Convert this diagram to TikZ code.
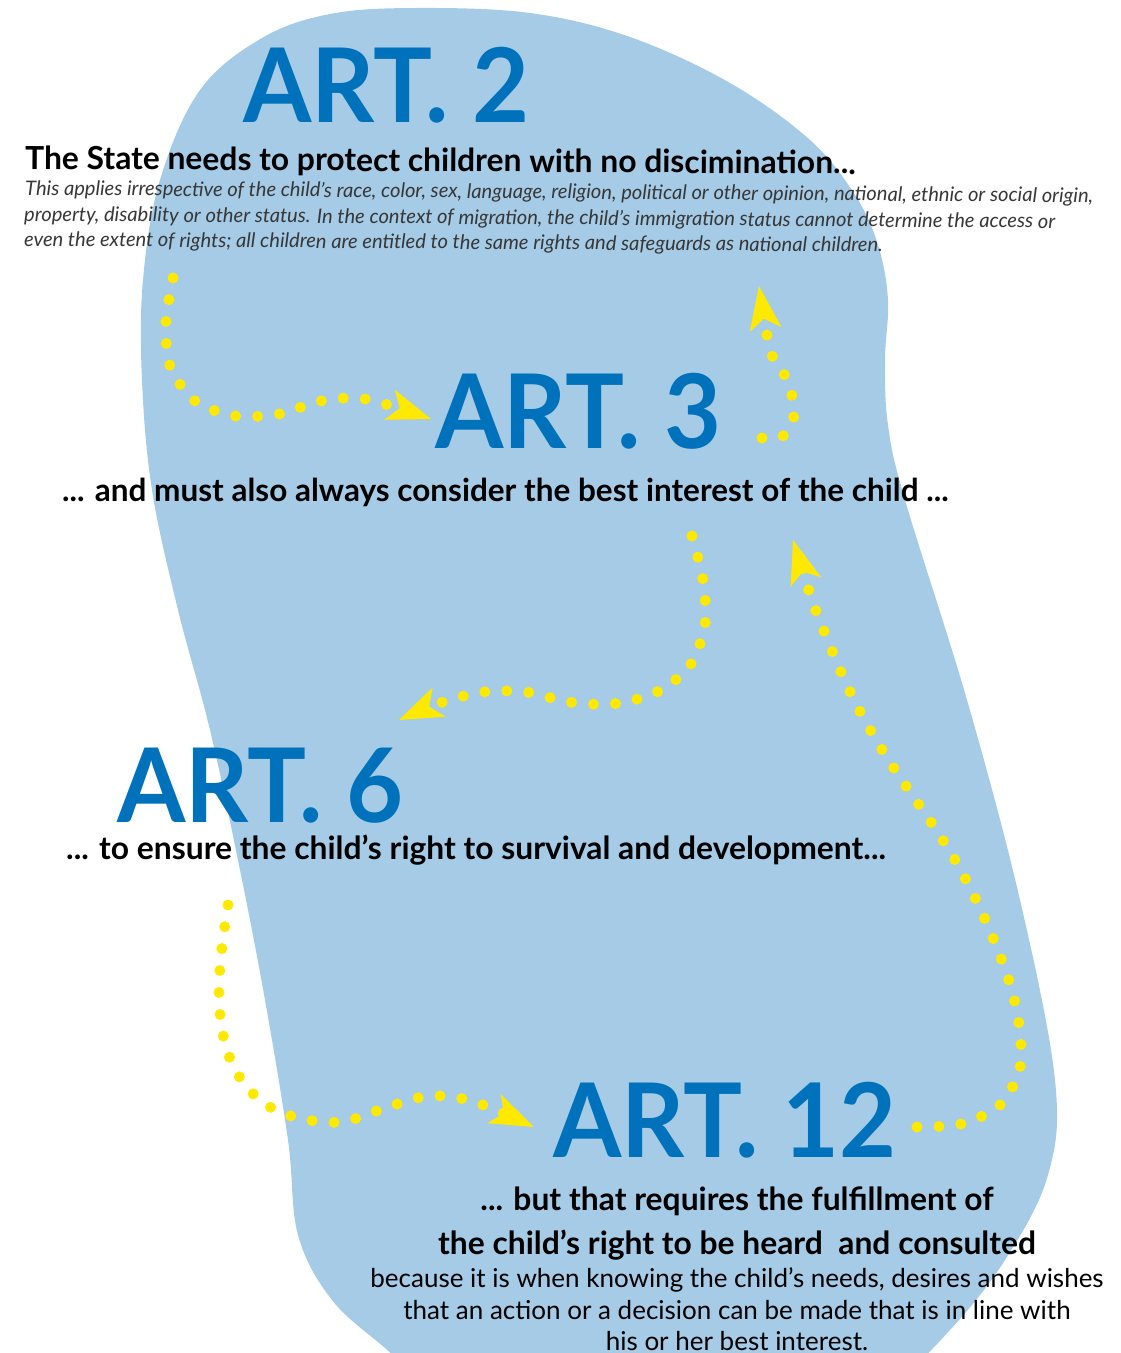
\documentclass[tikz,border=0pt]{standalone}
\usepackage{fontspec}
\setmainfont{Lato}
\usetikzlibrary{arrows.meta}
\definecolor{blobblue}{RGB}{165,203,230}
\definecolor{artblue}{RGB}{0,114,187}
\definecolor{dotyellow}{RGB}{255,233,0}
\definecolor{notegray}{RGB}{55,55,55}
\begin{document}
\begin{tikzpicture}[x=1pt,y=-1pt,
  art/.style={text=artblue, font=\bfseries\fontsize{103}{103}\selectfont, inner sep=0pt, text depth=0pt, anchor=base west, xscale=0.955},
  lead/.style={text=black, font=\bfseries\fontsize{31.8}{36}\selectfont, inner sep=0pt, anchor=base west},
  leadc/.style={text=black, font=\bfseries\fontsize{31.8}{36}\selectfont, inner sep=0pt, anchor=base},
  note/.style={text=notegray, font=\itshape\fontsize{20.1}{25}\selectfont, inner sep=0pt, anchor=base west, rotate=-0.4},
  bodyc/.style={text=black, font=\fontsize{26}{32}\selectfont, inner sep=0pt, anchor=base},
  flow/.style={draw=dotyellow, line width=11pt, line cap=round, dash pattern=on 0pt off 22pt,
    -{Stealth[length=44pt,width=32pt,inset=11pt,line width=0pt,fill=dotyellow]}}
]
\useasboundingbox (0,0) rectangle (1121,1353);
\clip (0,0) rectangle (1121,1353);

% background blob
\fill[blobblue] plot[smooth cycle, tension=0.6] coordinates {
 (415,8) (530,13) (630,37) (730,83) (810,140) (855,195) (878,245) (888,300)
 (885,360) (888,425) (905,500) (967,700) (1020,900) (1055,1080) (1048,1175)
 (1005,1260) (950,1330) (890,1385) (800,1430) (550,1430) (440,1395) (385,1348)
 (332,1300) (298,1235) (288,1140) (265,1000) (240,870) (210,730) (178,610)
 (152,490) (142,380) (143,280) (160,180) (200,90) (262,38) (330,14)};

% headings
\node[art] (a2) at (243,122) {ART. 2};
\node[art] (a3) at (435,448) {ART. 3};
\node[art] (a6) at (117,822) {ART. 6};
\node[art] (a12) at (553,1157) {ART. 12};

% texts
\node[lead, rotate=-0.35] (t2) at (25,169) {The State needs to protect children with no discimination...};
\node[note] (n2a) at (25,195) {This applies irrespective of the child’s race, color, sex, language, religion, political or other opinion, national, ethnic or social origin,};
\node[note] (n2b) at (24,221) {property, disability or other status. In the context of migration, the child’s immigration status cannot determine the access or};
\node[note] (n2c) at (24,246) {even the extent of rights; all children are entitled to the same rights and safeguards as national children.};

\node[lead, font=\bfseries\fontsize{31.5}{36}\selectfont] (t3) at (62,501) {... and must also always consider the best interest of the child ...};
\node[lead] (t6) at (66,859) {... to ensure the child’s right to survival and development...};

\node[leadc] (t12a) at (737,1210) {... but that requires the fulfillment of};
\node[leadc] (t12b) at (737,1254) {the child’s right to be heard\ \ and consulted};
\node[bodyc] (b12a) at (737,1287) {because it is when knowing the child’s needs, desires and wishes};
\node[bodyc] (b12b) at (737,1319) {that an action or a decision can be made that is in line with};
\node[bodyc] (b12c) at (737,1350) {his or her best interest.};

% connector end points
\coordinate (p1s) at (173,278);  \coordinate (p1e) at (431,419);
\coordinate (p2s) at (762,438);  \coordinate (p2e) at (759,286);
\coordinate (p3s) at (692,536);  \coordinate (p3e) at (399,720);
\coordinate (p4s) at (917,1127); \coordinate (p4e) at (793,540);
\coordinate (p5s) at (228,905);  \coordinate (p5e) at (534,1127);

\draw[flow] plot[smooth] coordinates {(p1s) (166,322) (170,366) (195,401) (235,416) (279,414) (321,401) (365,399) (p1e)};
\draw[flow] plot[smooth] coordinates {(p2s) (780,438) (792,424) (794,406) (789,386) (781,368) (770,350) (p2e)};
\draw[flow] plot[smooth] coordinates {(p3s) (703,580) (705,625) (689,667) (655,693) (612,704) (569,702) (526,692) (483,692) (440,703) (p3e)};
\draw[flow] plot[smooth] coordinates {(p4s) (961,1124) (1000,1105) (1020,1068) (1019,1024) (1010,984) (995,943) (978,904) (958,865) (935,828) (910,792) (886,756) (864,719) (845,681) (828,641) (812,600) (p4e)};
\draw[flow] plot[smooth] coordinates {(p5s) (222,947) (219,988) (222,1030) (235,1070) (262,1102) (298,1118) (342,1122) (385,1108) (428,1096) (472,1101) (p5e)};
\end{tikzpicture}
\end{document}
